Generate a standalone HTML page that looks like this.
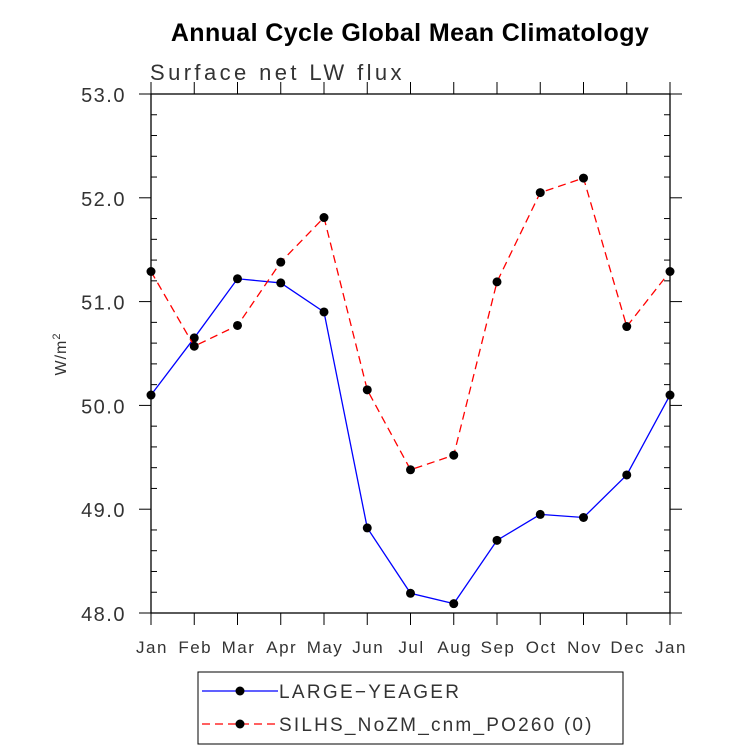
<!DOCTYPE html>
<html><head><meta charset="utf-8"><style>body{margin:0;background:#fff}svg{display:block;font-family:"Liberation Sans",sans-serif}</style></head>
<body>
<svg id="c" width="733" height="748">
<text x="410" y="41" text-anchor="middle" font-size="25" font-weight="bold" letter-spacing="0.4">Annual Cycle Global Mean Climatology</text>
<text x="150" y="80" font-size="22" fill="#333" letter-spacing="3.4">Surface net LW flux</text>
<text transform="translate(66,354) rotate(-90)" text-anchor="middle" font-size="16" fill="#333" letter-spacing="1">W/m<tspan dy="-6" font-size="11">2</tspan></text>
<g id="g"></g>
<g>
<rect x="198" y="672" width="425" height="72" fill="none" stroke="#000" stroke-width="1"/>
<g><line x1="202" y1="691" x2="278" y2="691" stroke="#00f" stroke-width="1.3"/><circle cx="240" cy="691" r="4.5"/><text x="279" y="698" font-size="19" fill="#333" letter-spacing="2.3">LARGE−YEAGER</text></g>
<g><line x1="202" y1="724" x2="278" y2="724" stroke="#f00" stroke-width="1.3" stroke-dasharray="8,5"/><circle cx="240" cy="724" r="4.5"/><text x="279" y="731" font-size="19" fill="#333" letter-spacing="2.2">SILHS_NoZM_cnm_PO260 (0)</text></g>
</g>
</svg>
<script>
const months=["Jan","Feb","Mar","Apr","May","Jun","Jul","Aug","Sep","Oct","Nov","Dec","Jan"];
const largeYeager=[50.10,50.65,51.22,51.18,50.90,48.82,48.19,48.09,48.70,48.95,48.92,49.33,50.10];
const silhs=[51.29,50.57,50.77,51.38,51.81,50.15,49.38,49.52,51.19,52.05,52.19,50.76,51.29];
const yTicks=["48.0","49.0","50.0","51.0","52.0","53.0"];
const L=151,R=670,T=94,B=613,ymin=48,ymax=53;
const xs=i=>L+(R-L)*i/(months.length-1);
const ys=v=>B-(v-ymin)/(ymax-ymin)*(B-T);
const NS="http://www.w3.org/2000/svg",g=document.getElementById("g");
function mk(t,a,p){const e=document.createElementNS(NS,t);for(const k in a)e.setAttribute(k,a[k]);(p||g).appendChild(e);return e;}
const frame=mk("rect",{x:L,y:T,width:R-L,height:B-T,fill:"none",stroke:"#000","stroke-width":1.3});


for(let v=ymin;v<=ymax+1e-6;v+=0.2){
  const y=ys(v),maj=Math.abs(v-Math.round(v))<1e-6;
  if(maj){mk("line",{x1:L-12,y1:y,x2:L,y2:y,stroke:"#000"});mk("line",{x1:R,y1:y,x2:R+12,y2:y,stroke:"#000"});}
  else{mk("line",{x1:L,y1:y,x2:L+6,y2:y,stroke:"#000"});mk("line",{x1:R-6,y1:y,x2:R,y2:y,stroke:"#000"});}
}
yTicks.forEach(s=>{const t=mk("text",{x:L-25,y:ys(parseFloat(s))+8,"text-anchor":"end","font-size":20,fill:"#333","letter-spacing":1.5});t.textContent=s;

});
months.forEach((m,i)=>{const x=xs(i);mk("line",{x1:x,y1:T-12,x2:x,y2:T,stroke:"#000"});mk("line",{x1:x,y1:B,x2:x,y2:B+12,stroke:"#000"});
const t=mk("text",{x:x+1,y:653,"text-anchor":"middle","font-size":17,fill:"#333","letter-spacing":1.5});t.textContent=m;

});
function series(d,col,dash,name){
  const pl=mk("polyline",{points:d.map((v,i)=>xs(i)+","+ys(v)).join(" "),fill:"none",stroke:col,"stroke-width":1.3,"stroke-dasharray":dash});
  
  
  d.forEach((v,i)=>{const c=mk("circle",{cx:xs(i),cy:ys(v),r:4.5,fill:"#000"});
  
  });
}
series(largeYeager,"#00f","none","large-yeager");
series(silhs,"#f00","8,5","silhs");
</script>
</body></html>
